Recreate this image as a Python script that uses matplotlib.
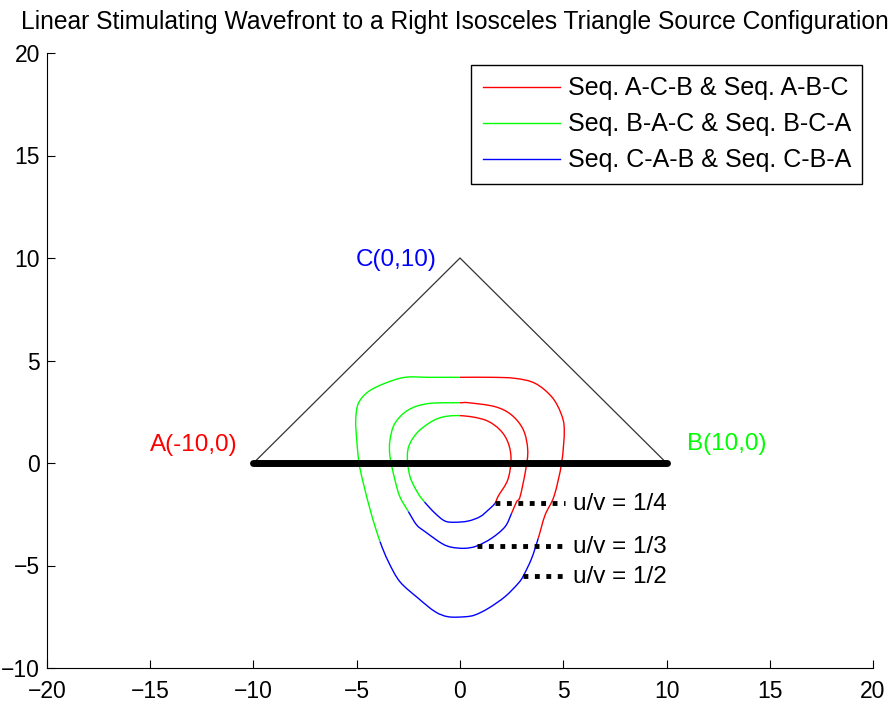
import numpy as np
import matplotlib.pyplot as plt
from matplotlib.path import Path
from matplotlib.patches import PathPatch

plt.rcParams['font.family'] = ['Liberation Sans', 'DejaVu Sans']

# triangle source configuration
tri_x = [-10, 0, 10]
tri_y = [0, 10, 0]
vertex_labels = ['A(-10,0)', 'C(0,10)', 'B(10,0)']

# wavefront loops, each split in three coloured parts
# outer loop, u/v = 1/2
outer_green_x = [0, -1.5, -2.66, -3.63, -4.44, -4.92, -5.05, -5.00, -4.89, -4.68, -4.28, -3.87]
outer_green_y = [4.18, 4.18, 4.18, 3.89, 3.48, 2.91, 2.10, 1.12, 0, -0.99, -2.54, -3.84]
outer_blue_x = [-3.87, -3.47, -2.91, -2.02, -1.21, -0.57, 0.24, 0.73, 1.37, 2.18, 2.82, 3.07, 3.47, 3.79]
outer_blue_y = [-3.84, -4.81, -5.79, -6.60, -7.25, -7.50, -7.50, -7.41, -7.09, -6.52, -5.87, -5.50, -4.65, -3.67]
outer_red_x = [3.79, 4.12, 4.56, 4.92, 5.05, 4.89, 4.44, 3.63, 2.66, 1.5, 0]
outer_red_y = [-3.67, -2.54, -1.60, 0, 1.61, 2.42, 3.23, 3.89, 4.13, 4.18, 4.18]

# middle loop, u/v = 1/3
mid_green_x = [0, -1.53, -2.50, -3.15, -3.39, -3.39, -3.15, -2.91, -2.50]
mid_green_y = [2.94, 2.90, 2.59, 1.94, 1.12, 0.31, -0.83, -1.65, -2.37]
mid_blue_x = [-2.50, -2.10, -1.69, -0.89, -0.40, 0.24, 0.81, 1.53, 2.18, 2.50]
mid_blue_y = [-2.37, -3.02, -3.35, -3.92, -4.11, -4.16, -4.05, -3.67, -3.11, -2.45]
mid_red_x = [2.50, 2.74, 2.91, 3.18, 3.28, 3.07, 2.50, 1.69, 0.40, 0]
mid_red_y = [-2.45, -1.89, -1.64, -0.34, 0.63, 1.61, 2.34, 2.75, 2.94, 2.94]

# inner loop, u/v = 1/4
in_green_x = [0, -1.05, -1.94, -2.42, -2.55, -2.42, -2.05, -1.72]
in_green_y = [2.31, 2.18, 1.61, 0.96, 0.31, -0.67, -1.45, -1.90]
in_blue_x = [-1.72, -1.21, -0.73, -0.24, 0.40, 0.97, 1.37, 1.69]
in_blue_y = [-1.90, -2.45, -2.83, -2.89, -2.83, -2.62, -2.29, -1.97]
in_red_x = [1.69, 1.86, 2.31, 2.47, 2.34, 1.94, 1.21, 0]
in_red_y = [-1.97, -1.60, -0.83, 0.15, 0.96, 1.61, 2.10, 2.31]

# ratio markers
ratio_labels = ['u/v = 1/4', 'u/v = 1/3', 'u/v = 1/2']
ratio_x0 = [1.69, 0.81, 3.07]
ratio_x1 = [5.08, 5.08, 5.08]
ratio_y = [-1.97, -4.05, -5.50]

legend_labels = ['Seq. A-C-B & Seq. A-B-C', 'Seq. B-A-C & Seq. B-C-A', 'Seq. C-A-B & Seq. C-B-A']

RED, GREEN, BLUE = '#ff0000', '#00ff00', '#0000ff'


def draw_loop(ax, parts, colors):
    # join the parts into one closed loop, then draw each part as a smooth path
    xs, ys, bounds = [], [], [0]
    for px, py in parts:
        xs += list(px[:-1])
        ys += list(py[:-1])
        bounds.append(len(xs))
    pts = np.column_stack([xs, ys])
    n = len(pts)
    tang = (np.roll(pts, -1, axis=0) - np.roll(pts, 1, axis=0)) / 2
    for k, c in enumerate(colors):
        i0, i1 = bounds[k], bounds[k + 1]
        verts = [pts[i0 % n]]
        codes = [Path.MOVETO]
        for i in range(i0, i1):
            a, b = i % n, (i + 1) % n
            verts += [pts[a] + tang[a] / 3, pts[b] - tang[b] / 3, pts[b]]
            codes += [Path.CURVE4] * 3
        ax.add_patch(PathPatch(Path(verts, codes), fill=False, edgecolor=c, lw=1))


fig = plt.figure(figsize=(8.94, 7.04), dpi=100)
ax = fig.add_axes([47/894, 36/704, 826/894, 615/704])

ax.plot(tri_x, tri_y, color='#333333', lw=0.9)
ax.plot([tri_x[0], tri_x[2]], [0, 0], color='k', lw=5, solid_capstyle='round', zorder=3)

draw_loop(ax, [(outer_green_x, outer_green_y), (outer_blue_x, outer_blue_y),
               (outer_red_x, outer_red_y)], [GREEN, BLUE, RED])
draw_loop(ax, [(mid_green_x, mid_green_y), (mid_blue_x, mid_blue_y),
               (mid_red_x, mid_red_y)], [GREEN, BLUE, RED])
draw_loop(ax, [(in_green_x, in_green_y), (in_blue_x, in_blue_y),
               (in_red_x, in_red_y)], [GREEN, BLUE, RED])

handles = [plt.Line2D([], [], color=c, lw=1) for c in (RED, GREEN, BLUE)]

for x0, x1, y, lab in zip(ratio_x0, ratio_x1, ratio_y, ratio_labels):
    ax.plot([x0, x1], [y, y], color='k', lw=3.5, linestyle=(0, (1, 1.35)),
            dash_capstyle='butt', zorder=4)
    ax.text(5.45, y - 0.05, lab, fontsize=17.5, va='center', ha='left')

# vertex names
ax.text(-10.75, 0.9, vertex_labels[0], color=RED, fontsize=17.5, ha='right', va='center')
ax.text(-1.15, 9.9, vertex_labels[1], color=BLUE, fontsize=17.5, ha='right', va='center')
ax.text(10.97, 0.95, vertex_labels[2], color=GREEN, fontsize=17.5, ha='left', va='center')

leg = ax.legend(handles, legend_labels, loc='upper right',
                bbox_to_anchor=(815/826, 603/615), borderaxespad=0,
                fancybox=False, framealpha=1, edgecolor='k', fontsize=18,
                handlelength=3.1, handletextpad=0.3, labelspacing=0.48,
                borderpad=0.45)
leg.get_frame().set_linewidth(1)

ax.set_xlim(-20, 20)
ax.set_ylim(-10, 20)
ax.set_xticks(np.arange(-20, 21, 5))
ax.set_yticks(np.arange(-10, 21, 5))
ax.tick_params(direction='in', length=6, labelsize=16.5, top=False, right=False)
ax.tick_params(axis='x', pad=9)
ax.tick_params(axis='y', pad=5)
for s in ['top', 'right']:
    ax.spines[s].set_visible(False)

ax.set_title('Linear Stimulating Wavefront to a Right Isosceles Triangle Source Configuration',
             fontsize=17.7, pad=17, x=0.494)

plt.savefig('out.png', dpi=100)
